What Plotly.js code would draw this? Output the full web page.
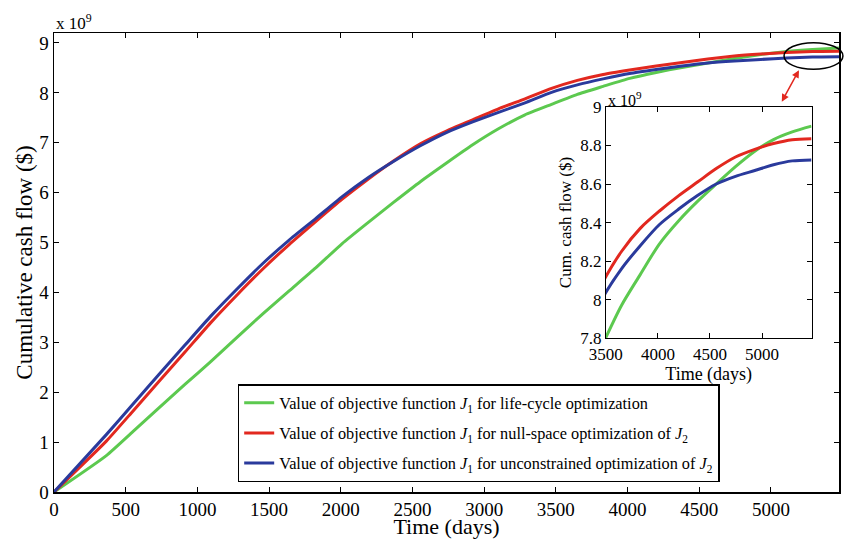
<!DOCTYPE html>
<html>
<head>
<meta charset="utf-8">
<script src="https://cdn.plot.ly/plotly-3.0.1.min.js"></script>
<style>html,body{margin:0;padding:0;background:#fff;}#chart{width:845px;height:539px;}</style>
</head>
<body>
<div id="chart"></div>
<script>
// Time in days
const timeDays = [0, 365, 550, 730, 915, 1095, 1280, 1460, 1640, 1825, 2010, 2190, 2370, 2555, 2740, 2920, 3100, 3285, 3470, 3650, 3830, 4015, 4200, 4380, 4560, 4745, 4930, 5110, 5290, 5475];
// Cumulative cash flow (x 10^9 $)
const lifeCycle     = [0, 0.73, 1.21, 1.68, 2.16, 2.62, 3.11, 3.58, 4.03, 4.49, 4.98, 5.40, 5.81, 6.22, 6.60, 6.96, 7.28, 7.56, 7.77, 7.97, 8.13, 8.29, 8.41, 8.51, 8.60, 8.69, 8.77, 8.83, 8.87, 8.90];
const nullSpace     = [0, 1.02, 1.62, 2.21, 2.81, 3.40, 3.96, 4.48, 4.96, 5.42, 5.87, 6.27, 6.64, 6.98, 7.24, 7.46, 7.68, 7.88, 8.09, 8.25, 8.37, 8.46, 8.54, 8.61, 8.68, 8.74, 8.78, 8.81, 8.83, 8.835];
const unconstrained = [0, 1.15, 1.76, 2.35, 2.95, 3.53, 4.08, 4.59, 5.05, 5.48, 5.92, 6.30, 6.63, 6.94, 7.21, 7.42, 7.61, 7.80, 8.01, 8.16, 8.28, 8.39, 8.47, 8.54, 8.60, 8.64, 8.67, 8.70, 8.72, 8.725];

const seriesNames = [
  'Value of objective function <i>J</i><sub>1</sub> for life-cycle optimization',
  'Value of objective function <i>J</i><sub>1</sub> for null-space optimization of <i>J</i><sub>2</sub>',
  'Value of objective function <i>J</i><sub>1</sub> for unconstrained optimization of <i>J</i><sub>2</sub>'
];
const seriesColors = ['#5cc94f', '#e2281f', '#2a3a9c'];
const seriesValues = [lifeCycle, nullSpace, unconstrained];

const mainXTicks = [0, 500, 1000, 1500, 2000, 2500, 3000, 3500, 4000, 4500, 5000];
const mainYTicks = [0, 1, 2, 3, 4, 5, 6, 7, 8, 9];
const insetXTicks = [3500, 4000, 4500, 5000];
const insetYTicks = [7.8, 8, 8.2, 8.4, 8.6, 8.8, 9];
const insetYLabels = ['7.8', '8', '8.2', '8.4', '8.6', '8.8', '9'];

const FONT = 'Liberation Serif, Times New Roman, serif';
const traces = [];
seriesValues.forEach((vals, i) => {
  traces.push({
    x: timeDays, y: vals, type: 'scatter', mode: 'lines', name: seriesNames[i],
    legendgroup: 'g' + i,
    line: {color: seriesColors[i], width: 3, shape: 'spline', smoothing: 0.5},
    xaxis: 'x', yaxis: 'y'
  });
});
seriesValues.forEach((vals, i) => {
  traces.push({
    x: timeDays, y: vals, type: 'scatter', mode: 'lines', showlegend: false,
    legendgroup: 'g' + i,
    line: {color: seriesColors[i], width: 3, shape: 'spline', smoothing: 0.8},
    xaxis: 'x2', yaxis: 'y2'
  });
});

const axisCommon = {
  showgrid: false, zeroline: false, showline: true, linecolor: '#000', linewidth: 1.5,
  mirror: 'ticks', ticks: 'inside', ticklen: 5, tickcolor: '#000', tickwidth: 1,
  tickfont: {family: FONT, size: 19, color: '#000'}
};

const layout = {
  width: 845, height: 539,
  margin: {l: 54, r: 6, t: 33, b: 47},
  paper_bgcolor: '#fff', plot_bgcolor: '#fff',
  font: {family: FONT, color: '#000'},
  showlegend: true,
  legend: {
    x: 0.234, y: 0.235, xanchor: 'left', yanchor: 'top',
    bgcolor: '#fff', bordercolor: '#000', borderwidth: 1.5,
    font: {family: FONT, size: 16.3, color: '#000'},
    traceorder: 'grouped', tracegroupgap: 6
  },
  xaxis: Object.assign({}, axisCommon, {
    range: [0, 5475], tickvals: mainXTicks, ticktext: mainXTicks.map(String),
    domain: [0, 1], anchor: 'y',
    title: {text: 'Time (days)', font: {family: FONT, size: 22, color: '#000'}, standoff: 3}
  }),
  yaxis: Object.assign({}, axisCommon, {
    range: [0, 9.2], tickvals: mainYTicks, ticktext: mainYTicks.map(String),
    domain: [0, 1], anchor: 'x',
    title: {text: 'Cumulative cash flow ($)', font: {family: FONT, size: 23, color: '#000'}, standoff: 0}
  }),
  xaxis2: Object.assign({}, axisCommon, {
    range: [3500, 5475], tickvals: insetXTicks, ticktext: insetXTicks.map(String),
    domain: [0.703, 0.965], anchor: 'y2', linewidth: 1,
    tickfont: {family: FONT, size: 17, color: '#000'},
    title: {text: 'Time (days)', font: {family: FONT, size: 18, color: '#000'}, standoff: 0}
  }),
  yaxis2: Object.assign({}, axisCommon, {
    range: [7.8, 9], tickvals: insetYTicks, ticktext: insetYLabels,
    domain: [0.335, 0.839], anchor: 'x2', linewidth: 1,
    tickfont: {family: FONT, size: 17, color: '#000'},
    title: {text: 'Cum. cash flow ($)', font: {family: FONT, size: 17, color: '#000'}, standoff: 4}
  }),
  shapes: [
    {type: 'rect', xref: 'x2 domain', yref: 'y2 domain', x0: 0, x1: 1, y0: 0, y1: 1,
     fillcolor: '#fff', line: {width: 0}, layer: 'below'},
    {type: 'circle', xref: 'paper', yref: 'paper', x0: 0.930, x1: 1.005, y0: 0.921, y1: 0.979,
     line: {color: '#000', width: 1.5}}
  ],
  annotations: [
    {text: 'x 10<sup>9</sup>', xref: 'paper', yref: 'paper', x: 0, y: 1, xanchor: 'left', yanchor: 'bottom',
     showarrow: false, font: {family: FONT, size: 17, color: '#000'}, yshift: -2},
    {text: 'x 10<sup>9</sup>', xref: 'paper', yref: 'paper', x: 0.703, y: 0.839, xanchor: 'left', yanchor: 'bottom',
     showarrow: false, font: {family: FONT, size: 16, color: '#000'}, yshift: -4},
    {text: '', xref: 'paper', yref: 'paper', x: 0.949, y: 0.919, ax: -18, ay: 33,
     showarrow: true, arrowside: 'end+start', arrowhead: 2, startarrowhead: 2, arrowsize: 1, startarrowsize: 1,
     arrowwidth: 1.5, arrowcolor: '#e2281f'}
  ]
};

Plotly.newPlot('chart', traces, layout, {displayModeBar: false, staticPlot: true});
</script>
</body>
</html>
